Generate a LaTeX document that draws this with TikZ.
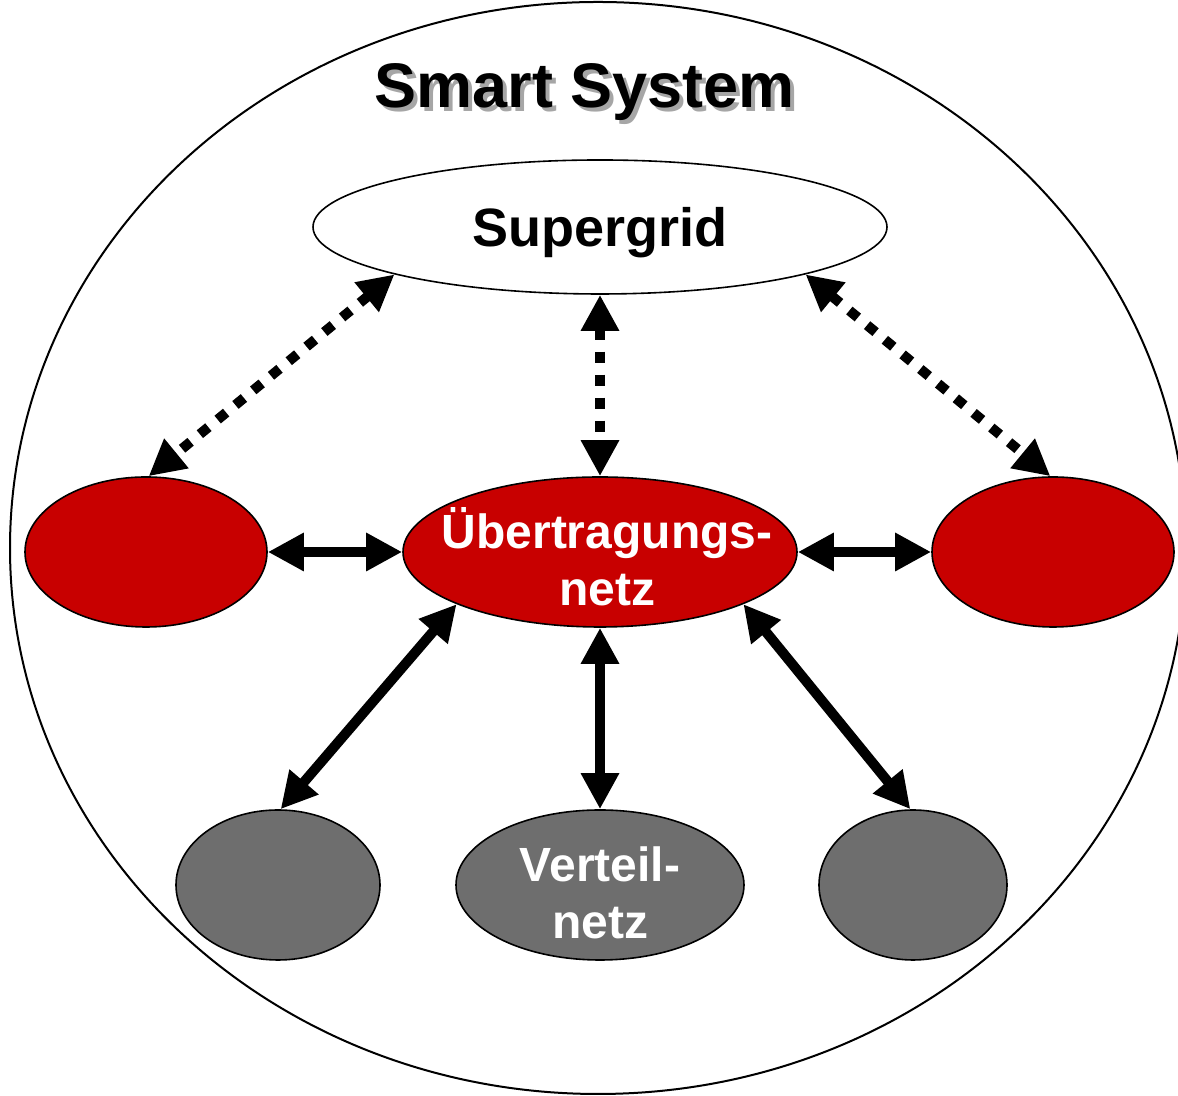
\documentclass[tikz,border=0pt]{standalone}
\usepackage{fontspec}
\setmainfont{Liberation Sans}
\usetikzlibrary{arrows.meta,shapes.geometric}
\definecolor{netzrot}{RGB}{200,0,0}
\definecolor{netzgrau}{RGB}{110,110,110}

\begin{document}
\begin{tikzpicture}[x=0.5pt,y=0.5pt,
  netz/.style={ellipse,draw,line width=0.8pt,inner sep=0pt,minimum height=75pt},
  rot/.style={netz,fill=netzrot},
  grau/.style={netz,fill=netzgrau},
  weiss/.style={font=\bfseries\fontsize{24}{28.5}\selectfont,text=white,align=center},
  pfeil/.style={{Triangle[length=18pt,width=18pt]}-{Triangle[length=18pt,width=18pt]},line width=5pt},
  punkt/.style={pfeil,dash pattern=on 5.5pt off 6pt}]
  \useasboundingbox (0,0) rectangle (1178,1096);

  % 外圈
  \draw[line width=1pt] (598,548) ellipse [x radius=588, y radius=546];

  % 标题（带阴影）
  \node[anchor=base,text=black!35,font=\bfseries\fontsize{31.5}{36}\selectfont]
    (titelschatten) at (589,984) {Smart System};
  \node[anchor=base,font=\bfseries\fontsize{31.5}{36}\selectfont]
    (titel) at (585,988) {Smart System};

  % 各层网络
  \node[netz,fill=white,minimum width=287pt,minimum height=67pt,text depth=0pt,
    font=\bfseries\fontsize{27}{32}\selectfont] (sg) at (600,869) {Supergrid};
  \node[rot,minimum width=121pt] (l) at (146,544) {};
  \node[rot,minimum width=197pt,
    label={[weiss,xshift=3.5pt,yshift=-2.5pt]center:Übertragungs-\\netz}] (c) at (600,544) {};
  \node[rot,minimum width=121pt] (r) at (1053,544) {};
  \node[grau,minimum width=102pt] (bl) at (278,211) {};
  \node[grau,minimum width=144pt,
    label={[weiss,yshift=-4pt]center:Verteil-\\netz}] (bc) at (600,211) {};
  \node[grau,minimum width=94pt] (br) at (913,211) {};

  % 虚线双向箭头
  \draw[punkt] (sg.193) -- (l.88);
  \draw[punkt] (sg.south) -- (c.north);
  \draw[punkt] (sg.347) -- (r.92);

  % 实线双向箭头
  \draw[pfeil] (l.east) -- (c.west);
  \draw[pfeil] (c.east) -- (r.west);
  \draw[pfeil] (c.200) -- (bl.88);
  \draw[pfeil] (c.south) -- (bc.north);
  \draw[pfeil] (c.340) -- (br.92);
\end{tikzpicture}
\end{document}
